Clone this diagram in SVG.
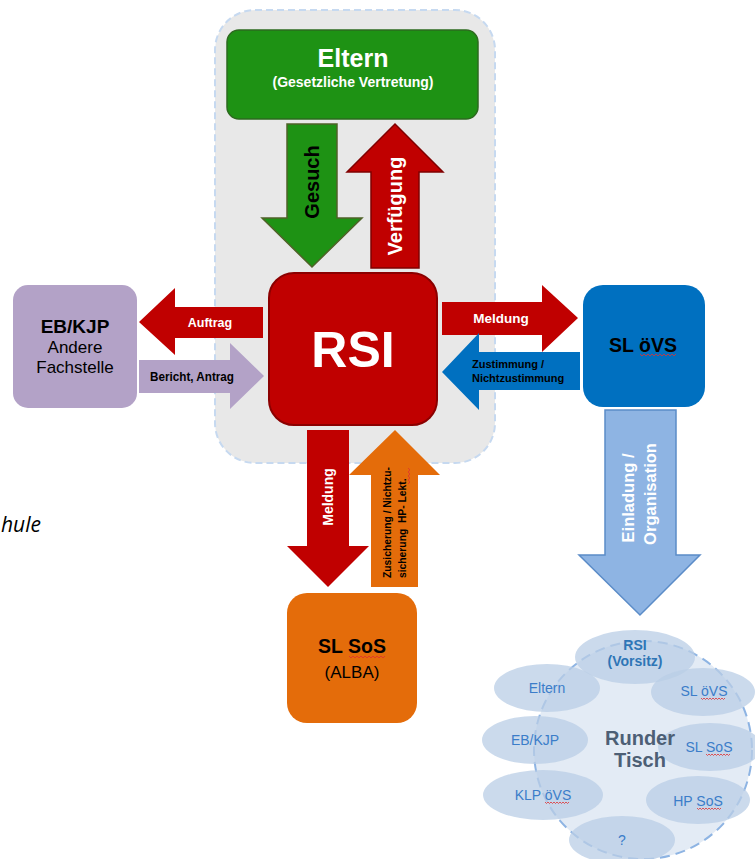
<svg xmlns="http://www.w3.org/2000/svg" width="755" height="859" viewBox="0 0 755 859">
<defs>
<style>
text{font-family:"Liberation Sans",Arial,sans-serif;}
.b{font-weight:bold;}
.w{fill:#ffffff;}
.k{fill:#000000;}
.mid{text-anchor:middle;}
.red{fill:#c00000;}
.spell{fill:none;stroke:#e03030;stroke-width:0.8;}
.ell{fill:#b9cde5;fill-opacity:0.75;}
.el{font-size:14px;fill:#3b7dc9;text-anchor:middle;}
</style>
</defs>
<rect width="755" height="859" fill="#ffffff"/>
<text x="1" y="532" style="font-family:'Open Sans','Noto Sans',sans-serif;font-style:italic;font-size:21px" fill="#000">hule</text>
<g id="container">
<rect x="215" y="10" width="280" height="453" rx="40" fill="#e8e8e8" stroke="#c6d9f0" stroke-width="2" stroke-dasharray="7 4"/>
</g>
<g id="connectors">
<g id="gesuch">
<polygon points="287,124 337,124 337,218 362,218 312,267 262,218 287,218" fill="#1e9214" stroke="#4f6228" stroke-width="1.5"/>
<text class="b k mid" font-size="20" transform="translate(312,182) rotate(-90)" dominant-baseline="central">Gesuch</text>
</g>
<g id="verfuegung">
<polygon points="371,268 419,268 419,172 443,172 395,124 347,172 371,172" fill="#c00000" stroke="#7f0000" stroke-width="1.5"/>
<text class="b w mid" font-size="20" transform="translate(395,206) rotate(-90)" dominant-baseline="central">Verfügung</text>
</g>
<g id="auftrag">
<polygon points="263,307 175,307 175,288 139,322 175,355 175,338 263,338" fill="#c00000"/>
<text class="b w mid" x="210" y="327" font-size="12.5">Auftrag</text>
</g>
<g id="bericht">
<polygon points="139,360 230,360 230,343 264,376 230,409 230,393 139,393" fill="#b3a2c7"/>
<text class="b k mid" x="192" y="381" font-size="12" textLength="84" lengthAdjust="spacingAndGlyphs">Bericht, Antrag</text>
</g>
<g id="meldung-oevs">
<polygon points="442,302 542,302 542,285 578,318 542,352 542,335 442,335" fill="#c00000"/>
<text class="b w mid" x="501" y="323" font-size="13.5">Meldung</text>
</g>
<g id="zustimmung">
<polygon points="580,352 479,352 479,333 442,372 479,410 479,390 580,390" fill="#0070c0"/>
<text class="b k" x="472" y="368" font-size="11">Zustimmung /</text>
<text class="b k" x="472" y="382" font-size="11">Nichtzustimmung</text>
</g>
<g id="einladung">
<polygon points="605,410 676,410 676,555 700,555 640,615 579,555 605,555" fill="#8eb4e3" stroke="#5b8cc8" stroke-width="1.5"/>
<text class="b w mid" font-size="16.5" transform="translate(628,498) rotate(-90)" dominant-baseline="central">Einladung /</text>
<text class="b w mid" font-size="16.5" transform="translate(650,494) rotate(-90)" dominant-baseline="central">Organisation</text>
</g>
<g id="meldung-sos">
<polygon points="307,430 349,430 349,546 369,546 328,587 287,546 307,546" fill="#c00000"/>
<text class="b w mid" font-size="14" transform="translate(328,497) rotate(-90)" dominant-baseline="central">Meldung</text>
</g>
<g id="zusicherung">
<polygon points="371,587 418,587 418,475 440,475 395,430 349,475 371,475" fill="#e46c0a"/>
<text class="b k" font-size="10.3" transform="translate(391,578) rotate(-90)">Zusicherung / Nichtzu-</text>
<text class="b k" font-size="10.3" transform="translate(406,578) rotate(-90)" xml:space="preserve">sicherung  HP- Lekt.</text>
<path class="spell" d="M408,484 l2,-2 l-2,-2 l2,-2 l-2,-2 l2,-2 l-2,-2 l2,-2 l-2,-2"/>
</g>
</g>
<g id="eltern">
<rect x="227" y="30" width="251" height="89" rx="12" fill="#1e9214" stroke="#2d6a1f" stroke-width="1.5"/>
<text class="b w mid" x="353" y="67" font-size="25">Eltern</text>
<text class="b w mid" x="353" y="87" font-size="14">(Gesetzliche Vertretung)</text>
</g>
<g id="rsi">
<rect x="269" y="273" width="168" height="152" rx="25" fill="#c00000" stroke="#8b0000" stroke-width="2"/>
<text class="b w mid" x="353" y="367" font-size="50">RSI</text>
</g>
<g id="ebkjp">
<rect x="13" y="285" width="124" height="123" rx="15" fill="#b3a2c7"/>
<text class="b k mid" x="75" y="333" font-size="19">EB/KJP</text>
<text class="k mid" x="75" y="353" font-size="17">Andere</text>
<text class="k mid" x="75" y="373" font-size="17">Fachstelle</text>
</g>
<g id="sloevs">
<rect x="583" y="285" width="122" height="122" rx="20" fill="#0070c0"/>
<text class="b k mid" x="643" y="352" font-size="19.5">SL öVS</text>
<path class="spell" d="M640,354 l2,2 l2,-2 l2,2 l2,-2 l2,2 l2,-2 l2,2 l2,-2 l2,2 l2,-2 l2,2 l2,-2 l2,2 l2,-2 l2,2 l2,-2 l2,2 l2,-2"/>
</g>
<g id="slsos">
<rect x="287" y="593" width="130" height="130" rx="20" fill="#e46c0a"/>
<text class="b k mid" x="352" y="653" font-size="19.5">SL SoS</text>
<text class="k mid" x="352" y="678" font-size="17">(ALBA)</text>
<path class="spell" d="M349,656 l2,2 l2,-2 l2,2 l2,-2 l2,2 l2,-2 l2,2 l2,-2 l2,2 l2,-2 l2,2 l2,-2 l2,2 l2,-2 l2,2 l2,-2 l2,2 l2,-2"/>
</g>
<g id="runder-tisch">
<circle cx="643" cy="750" r="109" fill="#dce6f2" fill-opacity="0.8"/>
<circle cx="643" cy="750" r="109" fill="none" stroke="#8eb4e3" stroke-width="2" stroke-dasharray="10 6"/>
<ellipse class="ell" cx="635" cy="657" rx="60" ry="27"/>
<ellipse class="ell" cx="547" cy="688" rx="53" ry="24"/>
<ellipse class="ell" cx="703" cy="692" rx="52" ry="24"/>
<ellipse class="ell" cx="535" cy="740" rx="53" ry="24"/>
<ellipse class="ell" cx="710" cy="747" rx="52" ry="24"/>
<ellipse class="ell" cx="543" cy="795" rx="60" ry="25"/>
<ellipse class="ell" cx="698" cy="800" rx="52" ry="24"/>
<ellipse class="ell" cx="622" cy="840" rx="53" ry="24"/>
<text class="b mid" x="640" y="745" font-size="20" fill="#4d5f75">Runder</text>
<text class="b mid" x="640" y="767" font-size="20" fill="#4d5f75">Tisch</text>
<text class="b mid" x="635" y="650" font-size="14" fill="#2e75b6">RSI</text>
<text class="b mid" x="635" y="666" font-size="14" fill="#2e75b6">(Vorsitz)</text>
<text class="el" x="547" y="693">Eltern</text>
<text class="el" x="704" y="696">SL öVS</text>
<text class="el" x="535" y="745">EB/KJP</text>
<text class="el" x="709" y="752">SL SoS</text>
<text class="el" x="543" y="800">KLP öVS</text>
<text class="el" x="698" y="806">HP SoS</text>
<text class="el" x="622" y="845">?</text>
<path class="spell" d="M701,698 l1.5,1.5 l1.5,-1.5 l1.5,1.5 l1.5,-1.5 l1.5,1.5 l1.5,-1.5 l1.5,1.5 l1.5,-1.5 l1.5,1.5 l1.5,-1.5 l1.5,1.5 l1.5,-1.5 l1.5,1.5 l1.5,-1.5 l1.5,1.5 l1.5,-1.5"/>
<path class="spell" d="M706,754 l1.5,1.5 l1.5,-1.5 l1.5,1.5 l1.5,-1.5 l1.5,1.5 l1.5,-1.5 l1.5,1.5 l1.5,-1.5 l1.5,1.5 l1.5,-1.5 l1.5,1.5 l1.5,-1.5 l1.5,1.5 l1.5,-1.5 l1.5,1.5 l1.5,-1.5"/>
<path class="spell" d="M545,802 l1.5,1.5 l1.5,-1.5 l1.5,1.5 l1.5,-1.5 l1.5,1.5 l1.5,-1.5 l1.5,1.5 l1.5,-1.5 l1.5,1.5 l1.5,-1.5 l1.5,1.5 l1.5,-1.5 l1.5,1.5 l1.5,-1.5 l1.5,1.5 l1.5,-1.5"/>
<path class="spell" d="M697,808 l1.5,1.5 l1.5,-1.5 l1.5,1.5 l1.5,-1.5 l1.5,1.5 l1.5,-1.5 l1.5,1.5 l1.5,-1.5 l1.5,1.5 l1.5,-1.5 l1.5,1.5 l1.5,-1.5 l1.5,1.5 l1.5,-1.5 l1.5,1.5 l1.5,-1.5"/>
</g>
</svg>
